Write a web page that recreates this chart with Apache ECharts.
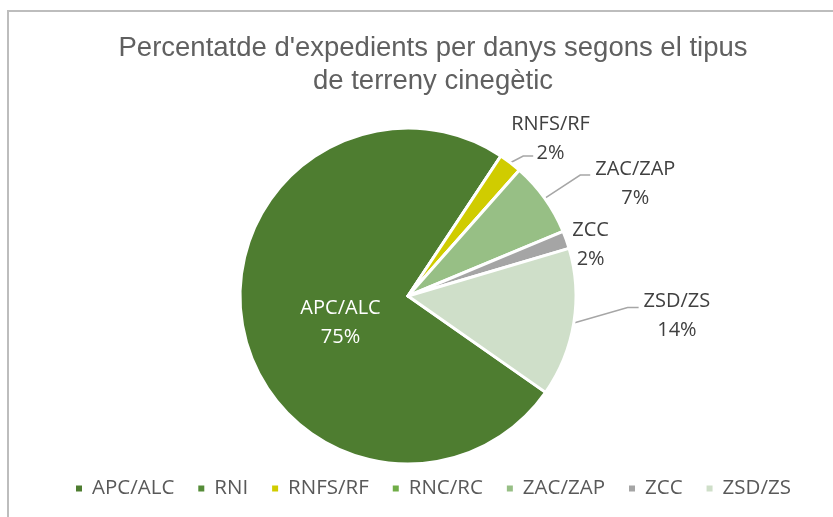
<!DOCTYPE html>
<html>
<head>
<meta charset="utf-8">
<script src="https://cdn.jsdelivr.net/npm/echarts@6/dist/echarts.min.js"></script>
<style>
  html, body { margin: 0; padding: 0; background: #fff; }
  #chart { width: 833px; height: 517px; }
</style>
</head>
<body>
<div id="chart"></div>
<script>
// Share of claim files by type of hunting ground
const categories = ['APC/ALC', 'RNI', 'RNFS/RF', 'RNC/RC', 'ZAC/ZAP', 'ZCC', 'ZSD/ZS'];
const shares = [74.6, 0, 2.2, 0, 7.2, 1.7, 14.3];
const colors = ['#4E7D30', '#558C38', '#D0CC00', '#70AD47', '#97BF85', '#A5A5A5', '#CFDFC9'];

const titleText = "Percentatde d'expedients per danys segons el tipus\nde terreny cinegètic";

// label nudges (px) relative to the default placement
const labelShift = {
  'APC/ALC': [18, 6],
  'RNFS/RF': [-19, -22],
  'ZAC/ZAP': [3, 4],
  'ZCC': [1, 0],
  'ZSD/ZS': [39, -14]
};
// leader lines: radial length, horizontal length, and where the line ends
// relative to the label box (x offset from its left side, fraction of its height)
const leader = {
  'RNFS/RF': { length: 8, length2: 10, endX: 22, endY: 0.94 },
  'ZAC/ZAP': { length: 40, length2: 10, endX: -5, endY: 0.42 },
  'ZSD/ZS': { length: 15, length2: 11, endX: -5, endY: 0.42 }
};

const labelFont = 'Open Sans';

const pieData = categories.map((name, i) => {
  const item = { name, value: shares[i], itemStyle: { color: colors[i] } };
  if (shares[i] === 0) {
    item.label = { show: false };
    item.labelLine = { show: false };
  } else if (i === 0) {
    item.label = { position: 'inner', color: '#FFFFFF' };
  } else {
    const l = leader[name];
    item.labelLine = l
      ? { show: true, length: l.length, length2: l.length2 }
      : { show: false, length: 0, length2: 0 };
  }
  return item;
});

const chart = echarts.init(document.getElementById('chart'));
chart.setOption({
  animation: false,
  title: {
    text: titleText,
    left: 433,
    top: 32,
    padding: 0,
    textAlign: 'center',
    textStyle: {
      fontFamily: 'Liberation Sans',
      fontWeight: 'normal',
      fontSize: 27.5,
      lineHeight: 33,
      color: '#606060'
    }
  },
  graphic: [{
    type: 'rect',
    silent: true,
    shape: { x: 8, y: 11, width: 900, height: 600 },
    style: { fill: 'none', stroke: '#BDBDBD', lineWidth: 2 }
  }],
  legend: {
    left: 74,
    top: 478,
    padding: 0,
    icon: 'rect',
    itemWidth: 8,
    itemHeight: 8,
    itemGap: 22,
    data: categories,
    textStyle: {
      fontFamily: labelFont,
      fontSize: 20.5,
      color: '#595959',
      padding: [0, 0, 0, 4]
    }
  },
  series: [{
    type: 'pie',
    center: [408, 296],
    radius: [0, 168],
    startAngle: -35,
    clockwise: true,
    percentPrecision: 0,
    avoidLabelOverlap: false,
    itemStyle: { borderColor: '#FFFFFF', borderWidth: 3 },
    label: {
      formatter: '{t|{b}}\n{t|{d}%}',
      color: '#404040',
      fontFamily: labelFont,
      fontSize: 20,
      rich: {
        t: { align: 'center', fontFamily: labelFont, fontSize: 20, lineHeight: 29 }
      }
    },
    labelLine: {
      lineStyle: { color: '#A6A6A6', width: 1.5 }
    },
    labelLayout: function (params) {
      const name = categories[params.dataIndex];
      const s = labelShift[name];
      if (!s) return {};
      const r = params.labelRect;
      const x = r.x + s[0];
      const y = r.y + s[1];
      const out = { x: x, y: y, align: 'left', verticalAlign: 'top' };
      const l = leader[name];
      if (l && params.labelLinePoints) {
        const p0 = params.labelLinePoints[0];
        const end = [x + l.endX, y + r.height * l.endY];
        out.labelLinePoints = [p0, [end[0] - l.length2, end[1]], end];
      }
      return out;
    },
    data: pieData
  }]
});
</script>
</body>
</html>
